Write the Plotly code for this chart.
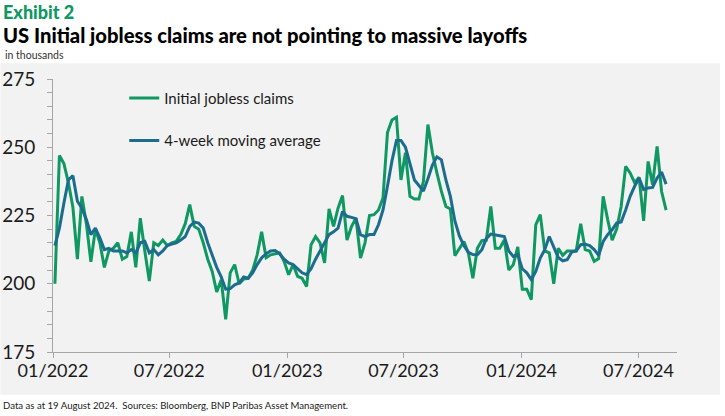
import pandas as pd
import plotly.graph_objects as go

# Weekly dates (137 weeks)
dates = pd.date_range("2022-01-04", periods=137, freq="7D")

initial_claims = [
    200, 247, 244, 237, 228, 209, 232, 222, 208, 220,
    215, 206, 212, 213, 215, 209, 210, 219, 206, 224,
    212, 201, 215, 214, 216, 214, 215, 215.5, 218, 222,
    229, 221, 220, 215, 209, 204.5, 197, 201.5, 187, 204,
    207, 200, 201.7, 202, 205, 210.6, 219, 209.5, 210.6, 211,
    211.3, 208.2, 203.3, 207, 202.7, 202, 199, 214.3, 217.3, 215,
    207.6, 227.4, 221, 227.7, 232.3, 216, 221, 224, 209.4, 215,
    225, 225.3, 227, 231.4, 255.4, 260, 261, 238, 248, 232,
    231, 231, 237.5, 258.3, 248, 240.6, 233.8, 228.3, 227.4, 210.3,
    212.7, 215.5, 211.3, 202, 213, 215.8, 216, 228.3, 213, 213,
    216, 205, 207, 213.5, 198, 198, 194.2, 221.6, 225.3, 212,
    211.3, 200, 213, 210.4, 212, 212, 212, 222, 212.5, 212,
    208.2, 209.2, 232, 223.5, 216, 220, 228.3, 243, 240.6, 237,
    239, 223, 244.8, 236.3, 250.3, 233.8, 227,
]

moving_avg = [
    214, 220.4, 229.6, 238, 239.6, 230.2, 227.7, 223.5, 218, 220.4,
    216.8, 212.5, 213, 212, 212, 212, 211.3, 212.5, 211.3, 215,
    215.5, 211.3, 212.5, 210.6, 212, 214, 214.5, 215, 216, 217.3,
    221, 222.6, 222.2, 220.4, 215, 210.6, 206, 202.5, 198, 198.2,
    199.6, 200.3, 202.5, 202, 204, 207, 209.5, 211, 212, 212.2,
    211, 209, 207.6, 207, 205.5, 204, 203.3, 205.5, 209, 212,
    215, 218, 219, 220.4, 226.5, 224.7, 224.3, 223.8, 218, 217.3,
    218, 218, 221.6, 227, 235.7, 245, 252.5, 252.5, 250, 244,
    238, 236, 234, 238.5, 243.5, 246.5, 245.4, 238, 232, 223,
    217.5, 214, 211.5, 210.7, 210.6, 212.5, 216.5, 218.2, 218, 217.6,
    217.3, 212, 210, 210.6, 205.5, 204, 201.5, 204.5, 209.4, 212.5,
    217.3, 213.1, 209.6, 208.4, 208.8, 211.6, 212, 214.3, 214.5, 214,
    212.5, 210.4, 215.5, 218, 219.8, 222.2, 222.6, 227, 232, 235.7,
    238.7, 234.5, 235.1, 235.3, 238.7, 240.9, 236.5,
]

GREEN = "#0f9862"
BLUE = "#1c6c8e"
FONT = "Lato"

fig = go.Figure()
fig.add_trace(go.Scatter(
    x=dates, y=initial_claims, mode="lines", name="Initial jobless claims",
    line=dict(color=GREEN, width=3), legendgroup="a",
))
fig.add_trace(go.Scatter(
    x=dates, y=moving_avg, mode="lines", name="4-week moving average",
    line=dict(color=BLUE, width=3), legendgroup="b",
))

L, R, T, B = 52.7, 47.7, 79.3, 63.7
W, H = 725, 416
pw = W - L - R
ph = H - T - B

def px_x(p):
    return (p - L) / pw

def px_y(p):
    return (H - B - p) / ph

fig.add_shape(type="rect", xref="paper", yref="paper",
              x0=px_x(0), x1=px_x(720.5), y0=px_y(395), y1=px_y(63.5),
              fillcolor="#f2f2f2", line=dict(width=0), layer="below")

fig.update_layout(
    width=W, height=H,
    margin=dict(l=L, r=R, t=T, b=B, autoexpand=False),
    paper_bgcolor="white",
    plot_bgcolor="rgba(0,0,0,0)",
    font=dict(family=FONT, color="#1a1a1a"),
    showlegend=True,
    legend=dict(
        x=px_x(124), y=px_y(82), xanchor="left", yanchor="top",
        bgcolor="rgba(0,0,0,0)", font=dict(size=15, family=FONT, color="#1a1a1a"),
        tracegroupgap=20, itemwidth=30,
    ),
    xaxis=dict(
        range=["2022-01-01", "2024-08-30"],
        tick0="2022-01-01", dtick="M6", tickformat="%m/%Y",
        showgrid=False, zeroline=False, automargin=False,
        showline=True, linecolor="#a6a6a6", linewidth=1,
        ticks="outside", ticklen=5, tickcolor="#a6a6a6",
        tickfont=dict(size=18, family=FONT, color="#1a1a1a"),
        ticklabelstandoff=-3,
    ),
    yaxis=dict(
        range=[175, 275], tick0=175, dtick=25,
        showgrid=False, zeroline=False, automargin=False,
        showline=True, linecolor="#a6a6a6", linewidth=1,
        ticks="outside", ticklen=5, tickcolor="#a6a6a6",
        tickfont=dict(size=19, family=FONT, color="#1a1a1a"),
        ticklabelstandoff=8,
        minor=dict(dtick=5, ticks="outside", ticklen=5, tickcolor="#a6a6a6"),
    ),
)

annotations = [
    dict(text="Exhibit 2", x=px_x(1), y=px_y(12), xanchor="left", yanchor="middle",
         font=dict(size=18, family=FONT, color=GREEN, weight=900)),
    dict(text="US Initial jobless claims are not pointing to massive layoffs",
         x=px_x(1), y=px_y(35), xanchor="left", yanchor="middle",
         font=dict(size=20.2, family=FONT, color="#000000", weight=900)),
    dict(text="in thousands", x=px_x(3), y=px_y(55), xanchor="left", yanchor="middle",
         font=dict(size=10.5, family=FONT, color="#333333")),
    dict(text="Data as at 19 August 2024.&nbsp; Sources: Bloomberg, BNP Paribas Asset Management.",
         x=px_x(1), y=px_y(406), xanchor="left", yanchor="middle",
         font=dict(size=9.6, family=FONT, color="#1a1a1a")),
]
for a in annotations:
    a.update(xref="paper", yref="paper", showarrow=False)
fig.update_layout(annotations=annotations)

fig.write_html(
    "out.html",
    config={"displayModeBar": False},
    post_script="document.body.style.margin='0';document.body.style.overflow='hidden';",
)
